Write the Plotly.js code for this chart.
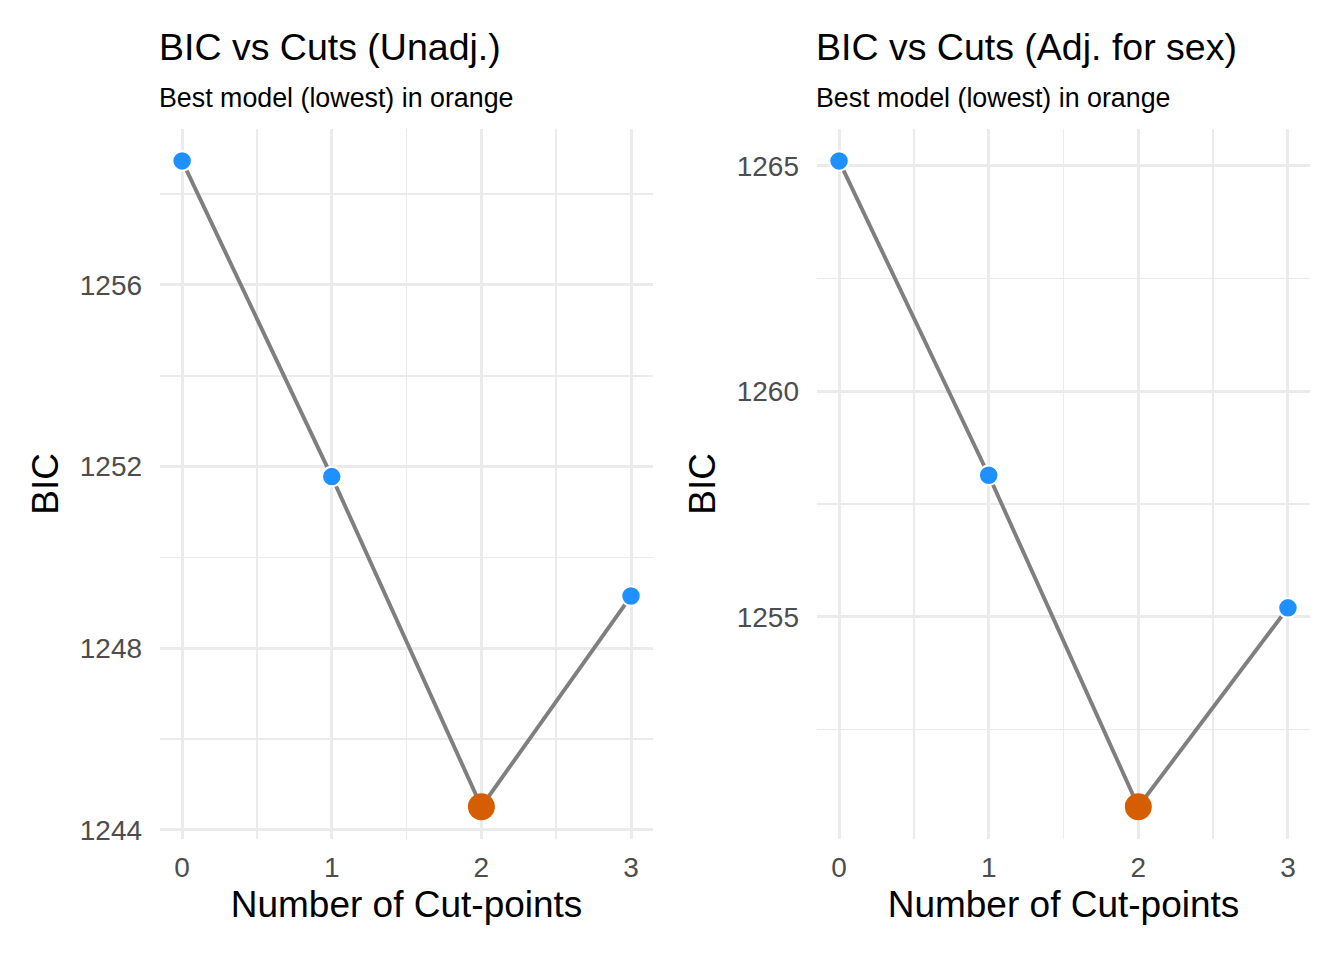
<!DOCTYPE html>
<html>
<head>
<meta charset="utf-8">
<script src="https://cdn.plot.ly/plotly-3.0.1.min.js"></script>
<style>html,body{margin:0;padding:0;background:#fff;}#chart{width:1344px;height:960px;}</style>
</head>
<body>
<div id="chart"></div>
<script>
const cuts = [0, 1, 2, 3];
const bicUnadj = [1258.73, 1251.78, 1244.51, 1249.15];
const bicAdj = [1265.11, 1258.14, 1250.79, 1255.20];
const titles = ["BIC vs Cuts (Unadj.)", "BIC vs Cuts (Adj. for sex)"];
const subtitle = "Best model (lowest) in orange";
const xLabel = "Number of Cut-points";
const yLabel = "BIC";

const FONT = "Liberation Sans, Arial, sans-serif";
const BLUE = "#1E90FF", ORANGE = "#D55E00", LINE = "#7F7F7F", GRID = "#EBEBEB";

function expand(arr) {
  const lo = Math.min(...arr), hi = Math.max(...arr), d = (hi - lo) * 0.05;
  return [lo - d, hi + d];
}
function panelTraces(vals, xa, ya) {
  const best = vals.indexOf(Math.min(...vals));
  const others = cuts.map((c, i) => i).filter(i => i !== best);
  return [
    {x: cuts, y: vals, xaxis: xa, yaxis: ya, mode: "lines", type: "scatter",
     line: {color: LINE, width: 3.9}, hoverinfo: "skip", showlegend: false},
    {x: others.map(i => cuts[i]), y: others.map(i => vals[i]), xaxis: xa, yaxis: ya,
     mode: "markers", type: "scatter", showlegend: false,
     marker: {color: BLUE, size: 19.5, line: {color: "#fff", width: 2}}},
    {x: [cuts[best]], y: [vals[best]], xaxis: xa, yaxis: ya,
     mode: "markers", type: "scatter", showlegend: false,
     marker: {color: ORANGE, size: 27, line: {color: "#fff", width: 0}}}
  ];
}

const data = [...panelTraces(bicUnadj, "x", "y"), ...panelTraces(bicAdj, "x2", "y2")];

const xr = expand(cuts);
function xaxis(dom, anchor) {
  return {domain: dom, anchor: anchor, range: xr, tickvals: cuts, ticktext: cuts.map(String),
    showgrid: true, gridcolor: GRID, gridwidth: 3, zeroline: false, showline: false,
    ticks: "outside", ticklen: 3, tickcolor: "rgba(0,0,0,0)",
    tickfont: {family: FONT, size: 28, color: "#4D4D4D"},
    minor: {dtick: 0.5, tick0: 0, showgrid: true, gridcolor: GRID, gridwidth: 1.6},
    title: {text: xLabel, font: {family: FONT, size: 37, color: "#000"}, standoff: 9}};
}
function yaxis(vals, dtick, tick0, mdt, anchor) {
  return {domain: [0.126, 0.866], anchor: anchor, range: expand(vals), dtick: dtick, tick0: tick0,
    showgrid: true, gridcolor: GRID, gridwidth: 3, zeroline: false, showline: false,
    ticks: "outside", ticklen: 11, tickcolor: "rgba(0,0,0,0)",
    tickfont: {family: FONT, size: 28, color: "#4D4D4D"},
    minor: {dtick: mdt, tick0: tick0, showgrid: true, gridcolor: GRID, gridwidth: 1.6},
    title: {text: yLabel, font: {family: FONT, size: 37, color: "#000"}, standoff: 9}};
}

const layout = {
  width: 1344, height: 960, margin: {l: 0, r: 0, t: 0, b: 0},
  paper_bgcolor: "#fff", plot_bgcolor: "#fff", showlegend: false,
  font: {family: FONT},
  xaxis: xaxis([0.1188, 0.4862], "y"),
  yaxis: yaxis(bicUnadj, 4, 1244, 2, "x"),
  xaxis2: xaxis([0.6076, 0.975], "y2"),
  yaxis2: yaxis(bicAdj, 5, 1255, 2.5, "x2"),
  annotations: [
    {text: titles[0], xref: "paper", yref: "paper", x: 157/1344, y: 1 - 24/960, xanchor: "left", yanchor: "top",
     showarrow: false, font: {family: FONT, size: 37.5, color: "#000"}},
    {text: subtitle, xref: "paper", yref: "paper", x: 157/1344, y: 1 - 81/960, xanchor: "left", yanchor: "top",
     showarrow: false, font: {family: FONT, size: 26.8, color: "#000"}},
    {text: titles[1], xref: "paper", yref: "paper", x: 814/1344, y: 1 - 24/960, xanchor: "left", yanchor: "top",
     showarrow: false, font: {family: FONT, size: 37.5, color: "#000"}},
    {text: subtitle, xref: "paper", yref: "paper", x: 814/1344, y: 1 - 81/960, xanchor: "left", yanchor: "top",
     showarrow: false, font: {family: FONT, size: 26.8, color: "#000"}}
  ]
};

Plotly.newPlot("chart", data, layout, {staticPlot: true, displayModeBar: false});
</script>
</body>
</html>
